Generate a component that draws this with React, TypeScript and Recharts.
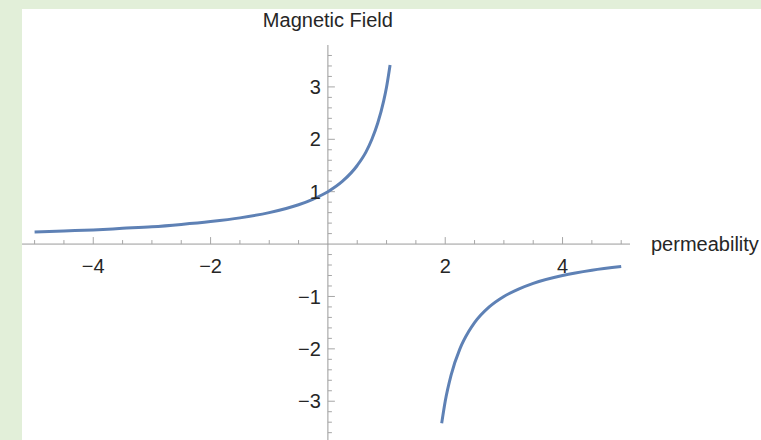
import React from 'react';
import { LineChart, Line, XAxis, YAxis, ReferenceLine, ReferenceDot, Label } from 'recharts';

// Left branch of the curve (permeability, magnetic field)
const leftX = [-5, -4.5, -4, -3.5, -3, -2.5, -2, -1.5, -1, -0.5, -0.25, 0, 0.25, 0.5, 0.65, 0.75, 0.85, 0.95, 1.0, 1.06];
const leftY = [0.23, 0.25, 0.27, 0.3, 0.33, 0.375, 0.43, 0.5, 0.6, 0.75, 0.86, 1.0, 1.2, 1.5, 1.76, 2.0, 2.31, 2.73, 3.0, 3.42];

// Right branch of the curve
const rightX = [1.94, 2.0, 2.1, 2.25, 2.4, 2.5, 2.75, 3.0, 3.25, 3.5, 4.0, 4.5, 5.0];
const rightY = [-3.42, -3.0, -2.5, -2.0, -1.67, -1.5, -1.2, -1.0, -0.86, -0.75, -0.6, -0.5, -0.43];

// Tick positions and labels
const xMajorTicks = [-4, -2, 2, 4];
const xMajorLabels = ['\u22124', '\u22122', '2', '4'];
const xMinorTicks = [-5, -4.5, -3.5, -3, -2.5, -1.5, -1, -0.5, 0.5, 1, 1.5, 2.5, 3, 3.5, 4.5, 5];
const yMajorTicks = [-3, -2, -1, 1, 2, 3];
const yMajorLabels = ['\u22123', '\u22122', '\u22121', '1', '2', '3'];
const yMinorTicks = [
  -3.6, -3.4, -3.2, -2.8, -2.6, -2.4, -2.2, -1.8, -1.6, -1.4, -1.2, -0.8, -0.6, -0.4, -0.2,
  0.2, 0.4, 0.6, 0.8, 1.2, 1.4, 1.6, 1.8, 2.2, 2.4, 2.6, 2.8, 3.2, 3.4, 3.6,
];

const xAxisTitle = 'permeability';
const yAxisTitle = 'Magnetic Field';

const leftData = leftX.map((x, i) => ({ x, y: leftY[i] }));
const rightData = rightX.map((x, i) => ({ x, y: rightY[i] }));

const X_DOMAIN: [number, number] = [-5.3, 5.15];
const Y_DOMAIN: [number, number] = [-3.74, 3.8];

const FONT = "'Liberation Sans', Arial, Helvetica, sans-serif";
const TEXT = '#262626';
const AXIS = '#9a9a9a';
const TICK = '#a6a6a6';
const CURVE = '#5E81B5';

// tick lengths expressed in data units (x: ~58.66 px/unit, y: ~52.39 px/unit)
const X_MAJOR_LEN = 7 / 52.39;
const X_MINOR_LEN = 4 / 52.39;
const Y_MAJOR_LEN = 7 / 58.66;
const Y_MINOR_LEN = 4 / 58.66;

export default function App() {
  return (
    <div style={{ position: 'absolute', left: 0, top: 0, width: 761, height: 440, background: '#E2EFD9', overflow: 'hidden' }}>
      <div style={{ position: 'absolute', left: 22, top: 9, width: 739, height: 431, background: '#ffffff', overflow: 'hidden' }}>
        <div style={{ position: 'absolute', left: -22, top: -9, fontFamily: FONT }}>
          <LineChart width={761} height={440} margin={{ top: 45, right: 131, bottom: 0, left: 17 }}>
            <XAxis type="number" dataKey="x" domain={X_DOMAIN} allowDataOverflow hide />
            <YAxis type="number" dataKey="y" domain={Y_DOMAIN} allowDataOverflow hide />

            <ReferenceLine y={0} stroke={AXIS} strokeWidth={1} />
            <ReferenceLine x={0} stroke={AXIS} strokeWidth={1} />

            {xMinorTicks.map((t) => (
              <ReferenceLine key={'xm' + t} segment={[{ x: t, y: 0 }, { x: t, y: X_MINOR_LEN }]} stroke={TICK} strokeWidth={1} />
            ))}
            {xMajorTicks.map((t) => (
              <ReferenceLine key={'xM' + t} segment={[{ x: t, y: 0 }, { x: t, y: X_MAJOR_LEN }]} stroke={TICK} strokeWidth={1} />
            ))}
            {yMinorTicks.map((t) => (
              <ReferenceLine key={'ym' + t} segment={[{ x: 0, y: t }, { x: Y_MINOR_LEN, y: t }]} stroke={TICK} strokeWidth={1} />
            ))}
            {yMajorTicks.map((t) => (
              <ReferenceLine key={'yM' + t} segment={[{ x: 0, y: t }, { x: Y_MAJOR_LEN, y: t }]} stroke={TICK} strokeWidth={1} />
            ))}

            <Line data={leftData} dataKey="y" type="monotone" stroke={CURVE} strokeWidth={3} dot={false} isAnimationActive={false} />
            <Line data={rightData} dataKey="y" type="monotone" stroke={CURVE} strokeWidth={3} dot={false} isAnimationActive={false} />

            {xMajorTicks.map((t, i) => (
              <ReferenceDot key={'xl' + t} x={t} y={0} r={0} fill="none" stroke="none"
                label={<Label value={xMajorLabels[i]} position="bottom" offset={15} fill={TEXT} fontSize={20} fontFamily={FONT} />} />
            ))}
            {yMajorTicks.map((t, i) => (
              <ReferenceDot key={'yl' + t} x={0} y={t} r={0} fill="none" stroke="none"
                label={<Label value={yMajorLabels[i]} position="left" offset={7} fill={TEXT} fontSize={20} fontFamily={FONT} />} />
            ))}

            <ReferenceDot x={0} y={Y_DOMAIN[1]} r={0} fill="none" stroke="none"
              label={<Label value={yAxisTitle} position="top" offset={18} fill={TEXT} fontSize={20} fontFamily={FONT} />} />
            <ReferenceDot x={X_DOMAIN[1]} y={0} r={0} fill="none" stroke="none"
              label={<Label value={xAxisTitle} position="right" offset={21} fill={TEXT} fontSize={20} fontFamily={FONT} />} />
          </LineChart>
        </div>
      </div>
    </div>
  );
}
